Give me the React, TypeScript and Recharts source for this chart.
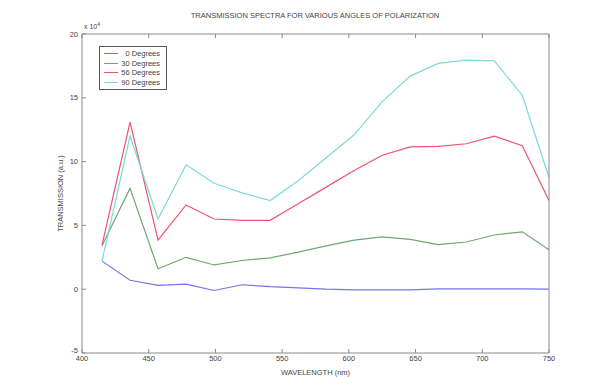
import { Label, Line, LineChart, XAxis, YAxis } from "recharts";

const wavelengths = [415, 436, 457, 478, 499, 520, 541, 562, 583, 604, 625, 646, 667, 688, 709, 730, 750];
const deg0 = [2.2, 0.7, 0.3, 0.4, -0.1, 0.35, 0.2, 0.1, 0.0, -0.05, -0.05, -0.05, 0.02, 0.02, 0.02, 0.02, 0.0];
const deg30 = [3.4, 7.9, 1.6, 2.5, 1.9, 2.25, 2.45, 2.9, 3.4, 3.85, 4.1, 3.9, 3.5, 3.7, 4.25, 4.5, 3.1];
const deg56 = [3.45, 13.1, 3.85, 6.6, 5.5, 5.4, 5.4, 6.7, 8.0, 9.3, 10.5, 11.15, 11.2, 11.4, 12.0, 11.25, 6.95];
const deg90 = [2.2, 12.0, 5.5, 9.75, 8.3, 7.55, 6.95, 8.5, 10.3, 12.1, 14.7, 16.7, 17.7, 17.95, 17.9, 15.2, 8.75];

const xTicks = [400, 450, 500, 550, 600, 650, 700, 750];
const yTicks = [-5, 0, 5, 10, 15, 20];

const series = [
  { key: "d0", name: "0 Degrees", color: "#7474ea", values: deg0 },
  { key: "d30", name: "30 Degrees", color: "#6ea86e", values: deg30 },
  { key: "d56", name: "56 Degrees", color: "#ec5470", values: deg56 },
  { key: "d90", name: "90 Degrees", color: "#7cdad6", values: deg90 },
];

const data = wavelengths.map((wl, i) => {
  const row: Record<string, number> = { wl };
  for (const s of series) row[s.key] = s.values[i];
  return row;
});

const FONT = "'Liberation Sans', Arial, sans-serif";
const AXIS = "#8a8a8a";
const tickStyle = { fontSize: 7.5, fill: "#444", fontFamily: FONT };
const blank = () => "";

// left tick labels; the bottom one sits a little above the corner like in MATLAB
function YTick(props: any) {
  const { x, y, payload } = props;
  const lift = payload.value === yTicks[0] ? -3 : 0;
  return (
    <text x={x} y={y + lift} dy={2.6} textAnchor="end" fontSize={7.5} fill="#444" fontFamily={FONT}>
      {payload.value}
    </text>
  );
}

export default function App() {
  return (
    <div style={{ position: "absolute", left: 0, top: 0, width: 593, height: 377, background: "#fff" }}>
      <LineChart
        width={593}
        height={377}
        data={data}
        margin={{ top: 30, right: 40, bottom: 0, left: 0 }}
      >
        <XAxis
          xAxisId="b"
          dataKey="wl"
          type="number"
          domain={[400, 750]}
          ticks={xTicks}
          height={24}
          stroke={AXIS}
          tickSize={-4}
          tickMargin={7}
          tick={tickStyle}
        >
          <Label
            value="WAVELENGTH (nm)"
            position="insideBottom"
            offset={2}
            style={{ fontSize: 7.5, fill: "#444", fontFamily: FONT }}
          />
        </XAxis>
        <XAxis
          xAxisId="t"
          orientation="top"
          dataKey="wl"
          type="number"
          domain={[400, 750]}
          ticks={xTicks}
          height={4}
          stroke={AXIS}
          tickSize={-4}
          tickFormatter={blank}
        />
        <YAxis
          yAxisId="l"
          type="number"
          domain={[-5, 20]}
          ticks={yTicks}
          width={82}
          stroke={AXIS}
          tickSize={-4}
          tickMargin={8}
          tick={<YTick />}
        >
          <Label
            value="TRANSMISSION (a.u.)"
            angle={-90}
            position="center"
            dx={19}
            style={{ fontSize: 7.5, fill: "#444", fontFamily: FONT, textAnchor: "middle" }}
          />
        </YAxis>
        <YAxis
          yAxisId="r"
          orientation="right"
          type="number"
          domain={[-5, 20]}
          ticks={yTicks}
          width={4}
          stroke={AXIS}
          tickSize={-4}
          tickFormatter={blank}
        />
        {series.map((s) => (
          <Line
            key={s.key}
            xAxisId="b"
            yAxisId="l"
            dataKey={s.key}
            name={s.name}
            type="linear"
            stroke={s.color}
            strokeWidth={1.2}
            dot={false}
            isAnimationActive={false}
          />
        ))}
        <text x={315} y={18} textAnchor="middle" fontSize={7.5} fill="#444" fontFamily={FONT}>
          TRANSMISSION SPECTRA FOR VARIOUS ANGLES OF POLARIZATION
        </text>
        <text x={84} y={29} fontSize={7} fill="#444" fontFamily={FONT}>
          x 10
          <tspan dy={-3} fontSize={5}>4</tspan>
        </text>
      </LineChart>
      <div
        style={{
          position: "absolute",
          left: 99,
          top: 46,
          width: 66,
          border: "1px solid #555",
          background: "#fff",
          padding: "2px 0",
          fontFamily: FONT,
          fontSize: 7.5,
          color: "#444",
        }}
      >
        {series.map((s) => (
          <div key={s.key} style={{ display: "flex", alignItems: "center", height: 9.5 }}>
            <span style={{ display: "inline-block", width: 14, height: 0, borderTop: `1.2px solid ${s.color}`, marginLeft: 4 }} />
            <span style={{ flex: 1, textAlign: "right", paddingRight: 6 }}>{s.name}</span>
          </div>
        ))}
      </div>
    </div>
  );
}
